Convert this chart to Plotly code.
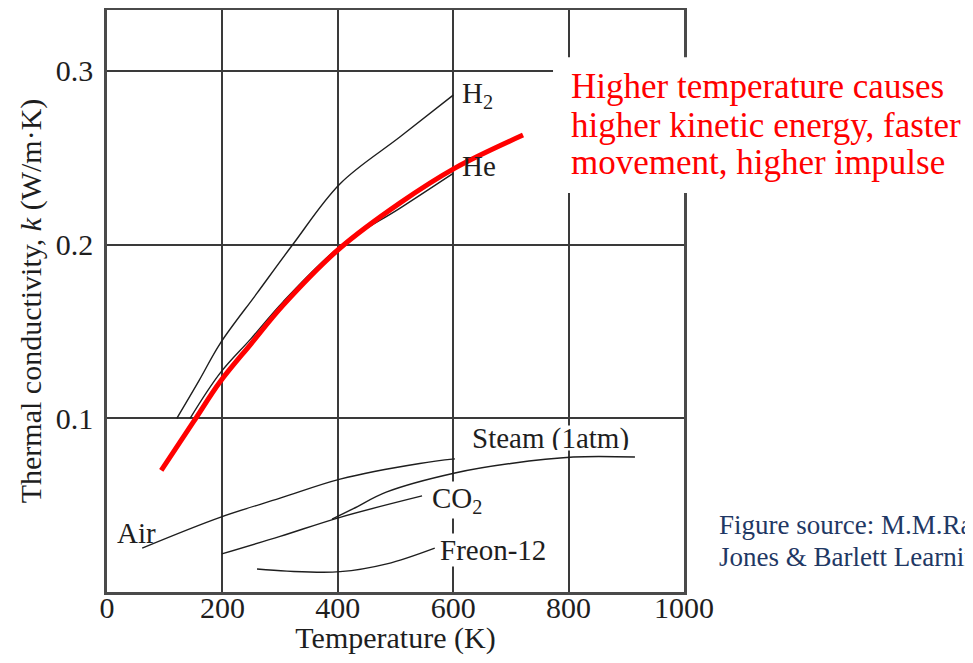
import plotly.graph_objects as go

# ---- data (T in K, k in W/m·K) ----
h2_T = [121, 160, 196, 260, 322, 404, 508, 600]
h2_k = [0.100, 0.122, 0.143, 0.172, 0.200, 0.235, 0.262, 0.286]

he_T = [144, 196, 250, 305, 404, 508, 600]
he_k = [0.100, 0.126, 0.146, 0.167, 0.199, 0.221, 0.241]

trend_T = [94, 150, 196, 250, 305, 404, 508, 603, 721]
trend_k = [0.070, 0.098, 0.121, 0.143, 0.165, 0.198, 0.224, 0.244, 0.263]

air_T = [61, 196, 300, 404, 542, 603]
air_k = [0.0253, 0.043, 0.054, 0.065, 0.074, 0.0766]

steam_T = [390, 427, 485, 603, 700, 808, 915]
steam_k = [0.042, 0.048, 0.0576, 0.0685, 0.074, 0.0777, 0.0777]

co2_T = [199, 300, 404, 546]
co2_k = [0.0219, 0.032, 0.043, 0.0553]

freon_T = [260, 312, 404, 485, 568]
freon_k = [0.0132, 0.012, 0.0117, 0.0162, 0.0253]

x_ticks = [0, 200, 400, 600, 800, 1000]
x_ticktext = ["0", "200", "400", "600", "800", "1000"]
y_ticks = [0.1, 0.2, 0.3]
y_ticktext = ["0.1", "0.2", "0.3"]

note_lines = ["Higher temperature causes",
              "higher kinetic energy, faster",
              "movement, higher impulse"]
source_lines = ["Figure source: M.M.Rathore, Engineering Heat and Mass Transfer,",
                "Jones & Barlett Learning"]

SERIF = "Liberation Serif, Times New Roman, serif"
INK = "#1e1e1e"

fig = go.Figure()
thin = dict(color=INK, width=1.4, shape="spline")
for name, T, k in [("H2", h2_T, h2_k), ("He", he_T, he_k), ("Air", air_T, air_k),
                   ("Steam", steam_T, steam_k), ("CO2", co2_T, co2_k),
                   ("Freon-12", freon_T, freon_k)]:
    fig.add_trace(go.Scatter(x=T, y=k, mode="lines", name=name, line=thin,
                             hoverinfo="skip", showlegend=False))
fig.add_trace(go.Scatter(x=trend_T, y=trend_k, mode="lines", name="trend",
                         line=dict(color="#ff0000", width=5, shape="spline"),
                         hoverinfo="skip", showlegend=False))

lab_font = dict(family=SERIF, size=29, color=INK)
labels = [
    ("H<sub>2</sub>", 614, 0.286, None, None),
    ("He", 614, 0.245, None, None),
    ("Steam (1atm)", 630, 0.0885, "white", 24),
    ("CO<sub>2</sub>", 561, 0.053, "white", None),
    ("Freon-12", 576, 0.0242, "white", None),
    ("Air", 16, 0.034, None, None),
]
for txt, x, y, bg, h in labels:
    kw = dict(height=h) if h else {}
    fig.add_annotation(x=x, y=y, xref="x", yref="y", text=txt, showarrow=False,
                       xanchor="left", yanchor="middle", font=lab_font,
                       bgcolor=bg if bg else "rgba(0,0,0,0)", borderpad=0, **kw)

# white box behind the red note
fig.add_shape(type="rect", xref="paper", yref="paper", x0=0.773, x1=1.6,
              y0=0.6856, y1=0.919, fillcolor="white", line=dict(width=0),
              layer="above")

note_y = [0.8677, 0.8024, 0.7388]
for txt, y in zip(note_lines, note_y):
    fig.add_annotation(x=0.800, y=y, xref="paper", yref="paper", text=txt,
                       showarrow=False, xanchor="left", yanchor="middle",
                       font=dict(family=SERIF, size=35, color="#ff0000"))

src_y = [0.1151, 0.0601]
for txt, y in zip(source_lines, src_y):
    fig.add_annotation(x=1.057, y=y, xref="paper", yref="paper", text=txt,
                       showarrow=False, xanchor="left", yanchor="middle",
                       font=dict(family=SERIF, size=27, color="#1f3864"))

axis_common = dict(showline=True, linecolor="#4a4a4a", linewidth=2.5, mirror=True,
                   showgrid=True, gridcolor="#3a3a3a", gridwidth=2,
                   zeroline=False, ticks="", tickfont=dict(family=SERIF, size=30, color=INK))

fig.update_xaxes(range=[0, 1000], tickvals=x_ticks, ticktext=x_ticktext,
                 ticklabelstandoff=-13,
                 title=dict(text="Temperature (K)", font=dict(family=SERIF, size=30, color=INK),
                            standoff=5),
                 **axis_common)
fig.update_yaxes(range=[0, 0.335], tickvals=y_ticks, ticktext=y_ticktext,
                 ticklabelstandoff=5,
                 title=dict(text="Thermal conductivity, <i>k</i> (W/m·K)",
                            font=dict(family=SERIF, size=30, color=INK), standoff=6),
                 **axis_common)

# the page body adds an 8 px margin, so the figure is sized to fit inside it
fig.update_layout(width=957, height=647,
                  margin=dict(l=99, r=281, t=2, b=63, autoexpand=False),
                  paper_bgcolor="white", plot_bgcolor="white", showlegend=False)

fig.write_html("out.html")
